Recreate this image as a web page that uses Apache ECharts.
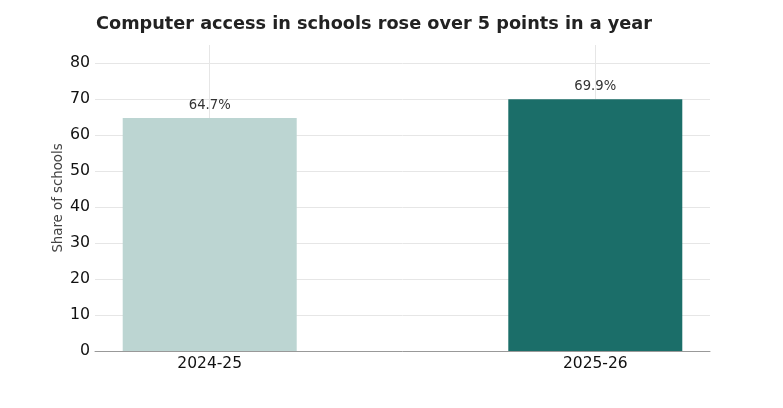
<!DOCTYPE html>
<html>
<head>
<meta charset="utf-8">
<script src="https://cdn.jsdelivr.net/npm/echarts@6/dist/echarts.min.js"></script>
<style>
  html, body { margin: 0; padding: 0; background: #fff; }
  #chart { width: 783px; height: 408px; }
</style>
</head>
<body>
<div id="chart"></div>
<script>
var years = ['2024-25', '2025-26'];
var shares = [64.7, 69.9];
var barColors = ['#bcd5d2', '#1b6e69'];

var myChart = echarts.init(document.getElementById('chart'));
var font = 'DejaVu Sans';

var option = {
	animation: false,
	title: {
		text: 'Computer access in schools rose over 5 points in a year',
		left: 91,
		top: 10,
		textStyle: { fontFamily: font, fontSize: 17.7, fontWeight: 'bold', color: '#222' }
	},
	grid: { left: 95, right: 73, top: 45, bottom: 57 },
	xAxis: {
		type: 'value',
		min: -0.2975,
		max: 1.2975,
		axisLine: { show: true, lineStyle: { color: '#999' } },
		axisTick: { show: false, customValues: [0, 1] },
		axisLabel: {
			customValues: [0, 1],
			fontFamily: font, fontSize: 15.5, color: '#111', margin: 5,
			formatter: function (v) { return years[Math.round(v)]; }
		},
		splitLine: { show: false }
	},
	yAxis: {
		type: 'value',
		min: 0,
		max: 85,
		interval: 10,
		name: 'Share of schools',
		nameLocation: 'middle',
		nameGap: 30,
		nameMoveOverlap: false,
		nameTextStyle: { fontFamily: font, fontSize: 13.3, color: '#444' },
		axisLine: { show: false },
		axisTick: { show: false },
		axisLabel: {
			fontFamily: font, fontSize: 15.8, color: '#111', margin: 5,
			showMaxLabel: false, padding: [3, 0, 0, 0]
		},
		splitLine: { show: true, showMaxLine: false, lineStyle: { color: '#e6e6e6', width: 1 } }
	},
	series: [{
		type: 'bar',
		barWidth: 174,
		data: shares.map(function (v, i) {
			return { value: [i, v], itemStyle: { color: barColors[i] } };
		}),
		label: {
			show: true,
			position: 'top',
			distance: 6,
			fontFamily: font, fontSize: 13.2, color: '#333',
			formatter: function (p) { return p.value[1].toFixed(1) + '%'; }
		},
		markLine: {
			silent: true,
			symbol: 'none',
			label: { show: false },
			lineStyle: { color: '#e6e6e6', type: 'solid', width: 1 },
			z: 0,
			data: years.map(function (y, i) { return { xAxis: i }; })
		},
		z: 2
	}]
};
myChart.setOption(option);
</script>
</body>
</html>
